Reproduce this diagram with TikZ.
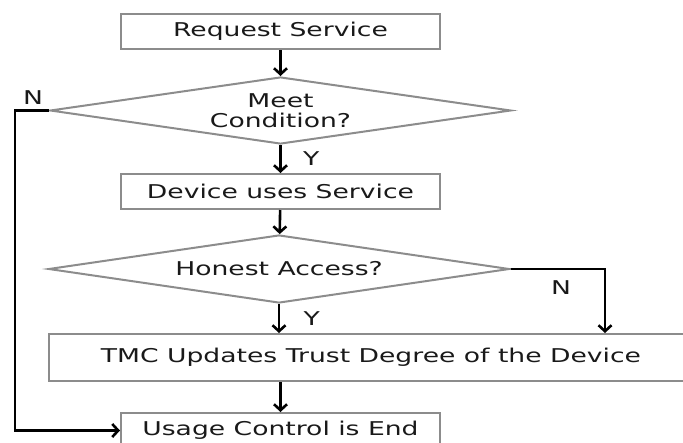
\documentclass[tikz,border=0pt]{standalone}
\usepackage{fontspec}
\setmainfont[FakeStretch=1.4]{DejaVu Sans}
\usetikzlibrary{shapes.geometric,arrows.meta}

\begin{document}
\begin{tikzpicture}[x=1pt,y=-1pt,
    boite/.style={draw=black!45,line width=2pt,rectangle,inner sep=0pt,
      minimum width=319pt,minimum height=35pt,text=black!90},
    losange/.style={draw=black!45,line width=2pt,diamond,inner sep=0pt,aspect=6.9,
      minimum width=461pt,minimum height=67pt,align=center,text=black!90},
    fleche/.style={line width=2.6pt,-{Straight Barb[length=6pt,width=13pt]}},
    lbl/.style={text=black!90},
    font=\fontsize{19}{20}\selectfont]
   \clip (0,0) rectangle (683,442);
   \node[boite] (req) at (280.5,31.5) {Request Service};
   \node[losange] (meet) at (280.5,110.5) {Meet\\Condition?};
   \node[boite] (dev) at (280.5,191.5) {Device uses Service};
   \node[losange,minimum height=68pt] (hon) at (279,269) {Honest Access?};
   \node[boite,minimum width=644pt,minimum height=47pt] (tmc) at (371,357.5)
     {TMC Updates Trust Degree of the Device};
   \node[boite] (fin) at (280.5,430.5) {Usage Control is End};
   \coordinate (gauche) at (15,110.5);  % retour a gauche (N)
   \coordinate (droite) at (605,269);   % branche N a droite
   \draw[fleche] (req) -- (meet);
   \draw[fleche] (meet) -- (dev) node[lbl,pos=0.5,right=18pt] {Y};
   \draw[fleche] (dev) -- (hon);
   \draw[fleche] (hon) -- (hon.south |- tmc.north) node[lbl,pos=0.5,right=20pt] {Y};
   \draw[fleche] (fin.north |- tmc.south) -- (fin);
   \draw[fleche] (meet.west) -- (gauche) |- (fin.west);
   \draw[fleche] (hon.east) -- (droite) -- (droite |- tmc.north);
   \node[lbl] (n1) at (33,98) {N};
   \node[lbl] (n2) at (561,288) {N};
\end{tikzpicture}
\end{document}
